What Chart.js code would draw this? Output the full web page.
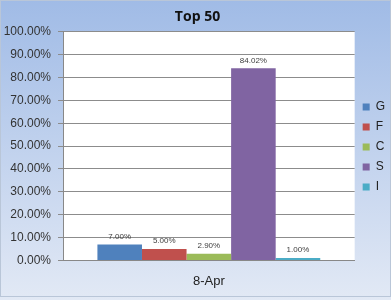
<!DOCTYPE html>
<html>
<head>
<meta charset="utf-8">
<script src="https://cdn.jsdelivr.net/npm/chart.js@4.4.1/dist/chart.umd.min.js"></script>
<style>
  html, body { margin: 0; padding: 0; background: #fff; }
  #wrap { width: 391px; height: 300px; }
</style>
</head>
<body>
<div id="wrap"><canvas id="chart" width="391" height="300"></canvas></div>
<script>
// chart data
const categories = ["8-Apr"];
const seriesNames = ["G", "F", "C", "S", "I"];
const seriesValues = [7.00, 5.00, 2.90, 84.02, 1.00];
const seriesColors = ["#4f81bd", "#c0504d", "#9bbb59", "#8064a2", "#4bacc6"];
const yTicks = [0, 10, 20, 30, 40, 50, 60, 70, 80, 90, 100];

// gradient backdrop + white plot area
const backdrop = {
  id: 'backdrop',
  afterLayout(chart) {
    // nudge legend up a little
    chart.legend.top -= 4;
    chart.legend.bottom -= 4;
  },
  beforeDraw(chart) {
    const { ctx, chartArea } = chart;
    const g = ctx.createLinearGradient(0, 0, 0, chart.height);
    g.addColorStop(0, '#a0bbe6');
    g.addColorStop(1, '#e2e9f5');
    ctx.save();
    ctx.fillStyle = g;
    ctx.fillRect(0, 0, chart.width, chart.height);
    ctx.strokeStyle = '#b9c6d8';
    ctx.strokeRect(0.5, 0.5, chart.width - 1, chart.height - 4);
    ctx.fillStyle = '#ffffff';
    ctx.fillRect(chartArea.left, chartArea.top, chartArea.right - chartArea.left, chartArea.bottom - chartArea.top);
    ctx.restore();
  }
};

// value labels over each bar
const barLabels = {
  id: 'barLabels',
  afterDatasetsDraw(chart) {
    const ctx = chart.ctx;
    ctx.save();
    ctx.font = '8px "Liberation Sans", Arial, sans-serif';
    ctx.fillStyle = '#404040';
    ctx.textAlign = 'center';
    ctx.textBaseline = 'bottom';
    chart.data.datasets.forEach((ds, i) => {
      chart.getDatasetMeta(i).data.forEach((bar, j) => {
        ctx.fillText(ds.data[j].toFixed(2) + '%', bar.x, bar.y - 4);
      });
    });
    ctx.restore();
  }
};

const datasets = seriesNames.map((name, i) => ({
  label: name,
  data: [seriesValues[i]],
  backgroundColor: seriesColors[i],
  borderWidth: 0
}));

new Chart(document.getElementById('chart'), {
  type: 'bar',
  data: { labels: categories, datasets: datasets },
  options: {
    responsive: false,
    animation: false,
    devicePixelRatio: 1,
    layout: { padding: { left: 0, right: -4, top: 0, bottom: -2 } },
    datasets: { bar: { barPercentage: 1, categoryPercentage: 0.764 } },
    plugins: {
      title: {
        display: true,
        text: 'Top 50',
        color: '#111',
        font: { family: '"Open Sans", sans-serif', size: 14, weight: 'bold' },
        padding: { top: 9, bottom: 6 }
      },
      legend: {
        position: 'right',
        labels: {
          boxWidth: 7,
          boxHeight: 7,
          padding: 8,
          color: '#222',
          font: { family: '"Liberation Sans", sans-serif', size: 12 }
        }
      },
      tooltip: { enabled: false }
    },
    scales: {
      x: {
        grid: { display: false, drawTicks: false },
        border: { color: '#888' },
        ticks: {
          color: '#222',
          padding: 13,
          font: { family: '"Liberation Sans", sans-serif', size: 13 }
        }
      },
      y: {
        min: 0,
        max: 100,
        afterBuildTicks(axis) { axis.ticks = yTicks.map(v => ({ value: v })); },
        afterFit(axis) { axis.width = 63; },
        grid: { color: '#8c8c8c', tickLength: 5 },
        border: { color: '#888' },
        ticks: {
          color: '#333',
          padding: 7,
          font: { family: '"Liberation Sans", sans-serif', size: 12 },
          callback: v => v.toFixed(2) + '%'
        }
      }
    }
  },
  plugins: [backdrop, barLabels]
});
</script>
</body>
</html>
